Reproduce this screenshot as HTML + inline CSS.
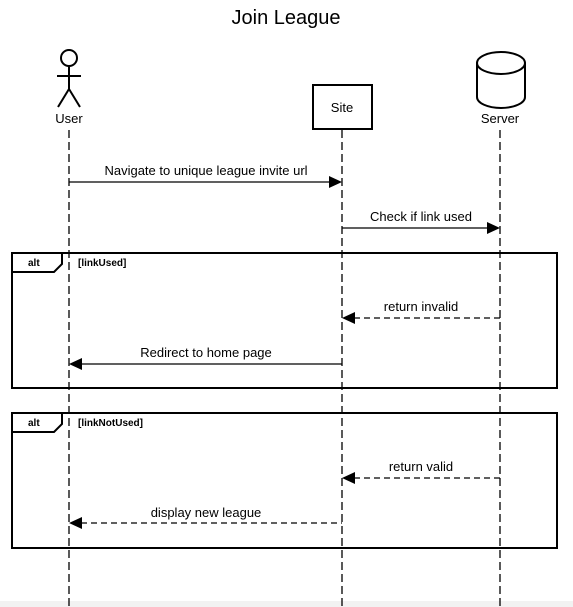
<!DOCTYPE html>
<html><head><style>body{margin:0;background:#fff}svg{display:block}</style></head><body>
<svg width="573" height="607" viewBox="0 0 573 607" xmlns="http://www.w3.org/2000/svg" font-family="Liberation Sans, Arial, sans-serif">
<rect x="0" y="601" width="573" height="6" fill="#f2f2f2"/>
<text x="286" y="24" font-size="20" text-anchor="middle">Join League</text>
<g stroke="#000" stroke-width="1.3" stroke-dasharray="8,4" fill="none">
<line x1="69" y1="130" x2="69" y2="607"/>
<line x1="342" y1="130" x2="342" y2="607"/>
<line x1="500" y1="130" x2="500" y2="607"/>
</g>
<g stroke="#000" stroke-width="2" fill="none">
<circle cx="69" cy="58" r="8"/>
<line x1="69" y1="66" x2="69" y2="89"/>
<line x1="57" y1="76" x2="81" y2="76"/>
<line x1="69" y1="89" x2="58" y2="107"/>
<line x1="69" y1="89" x2="80" y2="107"/>
<rect x="313" y="85" width="59" height="44" fill="#fff"/>
<path d="M477 63 L477 97 A24 11 0 0 0 525 97 L525 63"/>
<ellipse cx="501" cy="63" rx="24" ry="11"/>
</g>
<g font-size="13" text-anchor="middle">
<text x="69" y="123">User</text>
<text x="342" y="112">Site</text>
<text x="500" y="123">Server</text>
<text x="206" y="175">Navigate to unique league invite url</text>
<text x="421" y="221">Check if link used</text>
<text x="421" y="311">return invalid</text>
<text x="206" y="357">Redirect to home page</text>
<text x="421" y="471">return valid</text>
<text x="206" y="517">display new league</text>
</g>
<g stroke="#000" stroke-width="1.2">
<line x1="69" y1="182" x2="330" y2="182"/>
<line x1="342" y1="228" x2="488" y2="228"/>
<line x1="81" y1="364" x2="342" y2="364"/>
<line x1="354" y1="318" x2="500" y2="318" stroke-dasharray="6,4"/>
<line x1="354" y1="478" x2="500" y2="478" stroke-dasharray="6,4"/>
<line x1="81" y1="523" x2="342" y2="523" stroke-dasharray="6,4"/>
</g>
<g fill="#000">
<path d="M342 182 L329 176 L329 188Z"/>
<path d="M500 228 L487 222 L487 234Z"/>
<path d="M342 318 L355 312 L355 324Z"/>
<path d="M69 364 L82 358 L82 370Z"/>
<path d="M342 478 L355 472 L355 484Z"/>
<path d="M69 523 L82 517 L82 529Z"/>
</g>
<g stroke="#000" stroke-width="2" fill="none">
<rect x="12" y="253" width="545" height="135"/>
<path d="M12 272 L54 272 L62 264 L62 253"/>
<rect x="12" y="413" width="545" height="135"/>
<path d="M12 432 L54 432 L62 424 L62 413"/>
</g>
<g font-size="10" font-weight="bold">
<text x="28" y="266">alt</text>
<text x="78" y="266">[linkUsed]</text>
<text x="28" y="426">alt</text>
<text x="78" y="426">[linkNotUsed]</text>
</g>
</svg>
</body></html>
